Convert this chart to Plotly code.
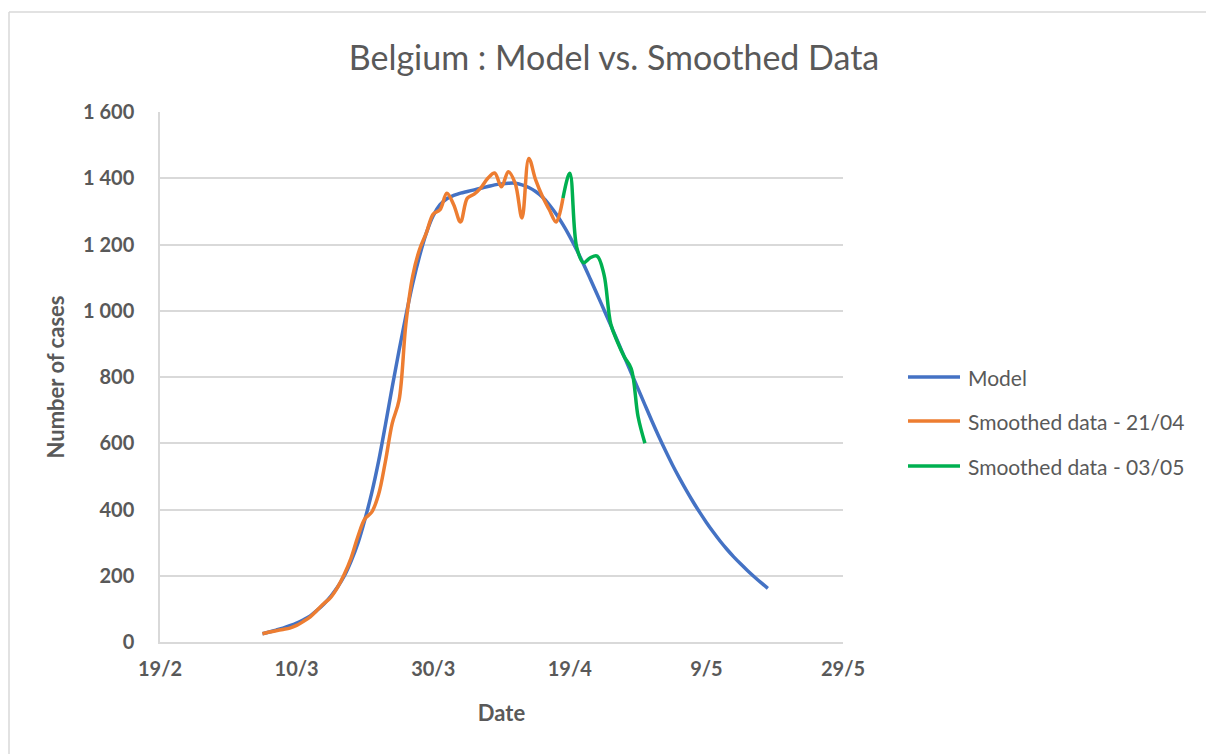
import plotly.graph_objects as go
import pandas as pd

# ---- data ----
model_start = "2020-03-05"
model_values = [25, 30, 36, 42, 49, 57, 67, 79, 96, 115, 138, 166, 200, 245, 300,
                370, 450, 545, 655, 770, 880, 985, 1082, 1165, 1235, 1287, 1320, 1338,
                1348, 1355, 1360, 1365, 1370, 1375, 1380, 1383, 1385, 1385, 1380, 1372,
                1360, 1343, 1320, 1292, 1260, 1224, 1184, 1141, 1096, 1050, 1003, 956,
                908, 860, 812, 764, 716, 668, 622, 578, 536, 497, 460, 425, 392, 361,
                332, 305, 280, 257, 236, 216, 197, 179, 162]

orange_start = "2020-03-05"
orange_values = [25, 30, 34, 38, 42, 50, 62, 76, 96, 116, 135, 165, 205, 255, 320,
                 372, 392, 445, 545, 660, 730, 960, 1105, 1185, 1235, 1292, 1305, 1355,
                 1320, 1268, 1340, 1352, 1372, 1400, 1416, 1374, 1420, 1385, 1280, 1460,
                 1395, 1345, 1305, 1268, 1340]

green_start = "2020-04-18"
green_values = [1340, 1415, 1193, 1145, 1160, 1165, 1110, 960, 905, 860, 825, 680, 600]

x_tick_dates = ["2020-02-19", "2020-03-10", "2020-03-30", "2020-04-19", "2020-05-09", "2020-05-29"]
x_tick_labels = ["19/2", "10/3", "30/3", "19/4", "9/5", "29/5"]
y_tick_vals = [0, 200, 400, 600, 800, 1000, 1200, 1400, 1600]
y_tick_labels = ["0", "200", "400", "600", "800", "1 000", "1 200", "1 400", "1 600"]

series_names = ["Model", "Smoothed data - 21/04", "Smoothed data - 03/05"]
series_colors = ["#4472C4", "#ED7D31", "#00B050"]

# ---- figure ----
FONT = "Lato, 'Open Sans', sans-serif"
TEXT = "#595959"
GRID = "#d9d9d9"

def dates(start, vals):
    return pd.date_range(start, periods=len(vals), freq="D")

fig = go.Figure()
for name, start, vals, col in zip(series_names,
                                  [model_start, orange_start, green_start],
                                  [model_values, orange_values, green_values],
                                  series_colors):
    fig.add_trace(go.Scatter(x=dates(start, vals), y=vals, mode="lines", name=name,
                             showlegend=False,
                             line=dict(color=col, width=3.5, shape="spline", smoothing=1.0)))

# page offset (html body margin)
OFF = 8
W, H = 1214 - OFF, 754 - OFF
PL, PR, PT, PB = 160, 843, 112, 642  # plot area in page pixels
L, T = PL - OFF, PT - OFF
R, B = W - (PR - OFF), H - (PB - OFF)
pw, ph = PR - PL, PB - PT

def px_x(p):
    return (p - PL) / pw

def px_y(p):
    return (PB - p) / ph

shapes = [
    dict(type="line", xref="paper", yref="paper",
         x0=px_x(9), x1=px_x(9), y0=px_y(12), y1=px_y(770),
         line=dict(color=GRID, width=1.5)),
    dict(type="line", xref="paper", yref="paper",
         x0=px_x(9), x1=px_x(1230), y0=px_y(12), y1=px_y(12),
         line=dict(color=GRID, width=1.5)),
]
annotations = []
legend_rows = [377, 421, 466]
for name, col, ry in zip(series_names, series_colors, legend_rows):
    shapes.append(dict(type="line", xref="paper", yref="paper",
                       x0=px_x(908), x1=px_x(960), y0=px_y(ry), y1=px_y(ry),
                       line=dict(color=col, width=3.5)))
    annotations.append(dict(text=name, xref="paper", yref="paper",
                            x=px_x(966), y=px_y(ry), xanchor="left", yanchor="middle",
                            showarrow=False,
                            font=dict(size=21, color=TEXT, family=FONT)))

fig.update_layout(
    width=W, height=H,
    margin=dict(l=L, r=R, t=T, b=B),
    paper_bgcolor="white", plot_bgcolor="white",
    font=dict(family=FONT, color=TEXT),
    title=dict(text="Belgium : Model vs. Smoothed Data", x=(614 - OFF) / W, xref="container",
               xanchor="center", y=1 - (58 - OFF) / H, yanchor="middle",
               font=dict(size=34, color=TEXT, family=FONT)),
    showlegend=False,
    xaxis=dict(type="date", range=["2020-02-19", "2020-05-29"],
               tickvals=x_tick_dates, ticktext=x_tick_labels,
               showgrid=False, showline=True, linecolor=GRID, linewidth=1.5,
               zeroline=False, ticks="", ticklabelstandoff=8,
               tickfont=dict(size=20, color=TEXT, family=FONT, weight="bold"),
               title=dict(text="Date", standoff=27,
                          font=dict(size=22, color=TEXT, family=FONT, weight="bold"))),
    yaxis=dict(range=[0, 1600], tickvals=y_tick_vals, ticktext=y_tick_labels,
               showgrid=True, gridcolor=GRID, gridwidth=1.5,
               showline=True, linecolor=GRID, linewidth=1.5,
               zeroline=False, ticks="", ticklabelstandoff=20,
               tickfont=dict(size=20, color=TEXT, family=FONT, weight="bold"),
               title=dict(text="Number of cases", standoff=12,
                          font=dict(size=22, color=TEXT, family=FONT, weight="bold"))),
    shapes=shapes,
    annotations=annotations,
)

fig.write_html("out.html")
